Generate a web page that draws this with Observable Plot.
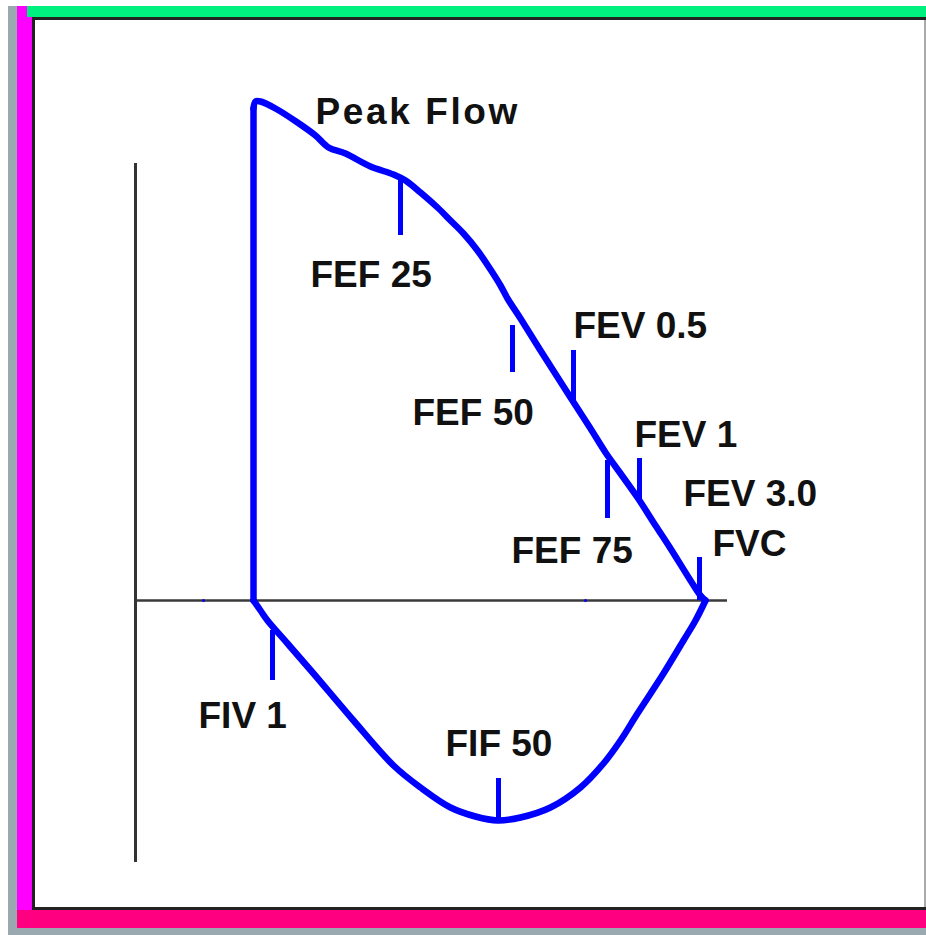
<!DOCTYPE html>
<html>
<head>
<meta charset="utf-8">
<script src="https://cdn.jsdelivr.net/npm/d3@7"></script>
<script src="https://cdn.jsdelivr.net/npm/@observablehq/plot@0.6"></script>
<style>
  html, body { margin: 0; padding: 0; background: #fff; }
  #page { position: relative; width: 926px; height: 935px; overflow: hidden; background: #fff; }
  .f { position: absolute; }
  #chart { position: absolute; left: 0; top: 0; }
</style>
</head>
<body>
<div id="page">
  <div class="f" style="left:8px;top:6px;width:918px;height:929px;background:#9aa9af;"></div>
  <div class="f" style="left:17px;top:6px;width:16px;height:922px;background:#ff00ff;"></div>
  <div class="f" style="left:27px;top:6px;width:899px;height:11px;background:#00f080;"></div>
  <div class="f" style="left:17px;top:910px;width:909px;height:18px;background:#ff0080;"></div>
  <div class="f" style="left:32px;top:17px;width:894px;height:893px;background:#222;"></div>
  <div class="f" style="left:35px;top:20px;width:889px;height:887px;background:#fff;"></div>
  <div class="f" style="left:924px;top:20px;width:2px;height:887px;background:#aaa;"></div>
  <div id="chart"></div>
</div>
<script>
// Expiratory limb: volume (L) vs flow (L/s); first two points are the straight rise to peak
const expVol  = [0,0,0.02,0.07,0.22,0.44,0.62,0.75,0.92,1.17,1.40,1.52,1.67,1.84,1.97,2.10,2.24,2.37,2.47,2.54,2.67,2.87,3.17,3.37,3.52,3.67,3.84,4.02,4.17,4.37,4.47,4.52];
const expFlow = [0,4.92,4.99,4.99,4.92,4.78,4.65,4.53,4.47,4.34,4.26,4.20,4.08,3.93,3.80,3.67,3.50,3.31,3.15,3.02,2.82,2.50,2.03,1.72,1.48,1.27,1.03,0.75,0.52,0.20,0.05,0];
// Inspiratory limb
const inspVol  = [0,0.07,0.14,0.34,0.60,1.00,1.40,1.67,1.97,2.22,2.44,2.67,2.97,3.27,3.50,3.67,3.84,4.10,4.30,4.42,4.52];
const inspFlow = [0,-0.10,-0.20,-0.43,-0.73,-1.20,-1.65,-1.87,-2.07,-2.16,-2.20,-2.17,-2.07,-1.87,-1.63,-1.40,-1.13,-0.73,-0.40,-0.20,0];
// Marker ticks
const markNames = ["FEF 25","FEF 50","FEV 0.5","FEF 75","FEV 1","FEV 3.0","FIV 1","FIF 50"];
const markVol   = [1.47,2.59,3.20,3.54,3.86,4.46,0.19,2.45];
const markFrom  = [4.23,2.75,2.50,1.40,1.42,0.43,-0.30,-1.78];
const markTo    = [3.65,2.28,1.97,0.82,1.00,0.00,-0.80,-2.20];
// Labels
const labelText = ["Peak Flow","FEF 25","FEV 0.5","FEF 50","FEV 1","FEV 3.0","FVC","FEF 75","FIV 1","FIF 50"];
const labelVol  = [0.62,0.57,3.20,1.59,3.81,4.30,4.59,2.58,-0.55,1.92];
const labelFlow = [4.77,3.14,2.63,1.76,1.54,0.95,0.45,0.38,-1.27,-1.55];
// Axes extents
const axisVol  = [-1.18, 4.74];
const axisFlow = [4.37, -2.62];
// small blue marks on the volume axis
const axisDots = [-0.50, 3.32];

const expData  = expVol.map((v, i) => ({v, f: expFlow[i]}));
const riseData = expData.slice(0, 2);
const fallData = expData.slice(1);
const inspData = inspVol.map((v, i) => ({v, f: inspFlow[i]}));
const marks = markNames.map((n, i) => ({n, v: markVol[i], a: markFrom[i], b: markTo[i]}));
const labels = labelText.map((t, i) => ({t, v: labelVol[i], f: labelFlow[i]}));

const lineStyle = {x: "v", y: "f", stroke: "#0000ff", strokeWidth: 6.5, strokeLinejoin: "round", strokeLinecap: "round"};

const chart = Plot.plot({
  width: 926,
  height: 935,
  margin: 0,
  x: {domain: [-2.53, 6.73], axis: null},
  y: {domain: [-3.35, 6.0], axis: null},
  style: {background: "transparent", overflow: "visible"},
  marks: [
    Plot.ruleX([axisVol[0]], {y1: axisFlow[0], y2: axisFlow[1], stroke: "#333", strokeWidth: 3}),
    Plot.ruleY([0], {x1: axisVol[0], x2: axisVol[1], stroke: "#3a3a3a", strokeWidth: 2.5}),
    Plot.dot(axisDots, {x: d => d, y: 0, r: 1.5, fill: "#0000ff", stroke: null}),
    Plot.line(riseData, lineStyle),
    Plot.line(fallData, {...lineStyle, curve: "catmull-rom"}),
    Plot.line(inspData, {...lineStyle, curve: "catmull-rom"}),
    Plot.ruleX(marks, {x: "v", y1: "a", y2: "b", stroke: "#0000ff", strokeWidth: 5}),
    Plot.text(labels, {x: "v", y: "f", text: "t", textAnchor: "start", lineAnchor: "bottom",
      fontSize: 37, fontWeight: "bold", fontFamily: "Liberation Sans, Arial, sans-serif", fill: "#111"})
  ]
});
// widen the "Peak Flow" label slightly, as in the original bitmap font
d3.select(chart).selectAll("text").filter(function () { return this.textContent === "Peak Flow"; })
  .style("letter-spacing", "2.6px");
document.getElementById("chart").appendChild(chart);
</script>
</body>
</html>
